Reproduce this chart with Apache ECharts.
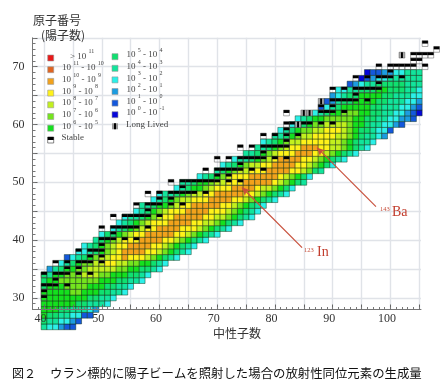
<!DOCTYPE html>
<html>
<head>
<meta charset="utf-8">
<title>chart</title>
<style>
html, body { margin: 0; padding: 0; background: #fff; }
#main { width: 444px; height: 386px; filter: blur(0.35px); }
</style>
<script src="https://cdn.jsdelivr.net/npm/echarts@6/dist/echarts.min.js"></script>
</head>
<body>
<div id="main"></div>
<script>
// 陽子数 Z ごとの先頭の中性子数と、セルごとの生成量クラス(1文字 = 1セル, a=10 b=11 c=12)
const protonNumbers = [25, 26, 27, 28, 29, 30, 31, 32, 33, 34, 35, 36, 37, 38, 39, 40, 41, 42, 43, 44, 45, 46, 47, 48, 49, 50, 51, 52, 53, 54, 55, 56, 57, 58, 59, 60, 61, 62, 63, 64, 65, 66, 67, 68, 69]
const firstNeutron = [40, 40, 40, 40, 40, 40, 40, 40, 40, 40, 41, 43, 44, 46, 47, 49, 50, 52, 53, 54, 56, 57, 59, 60, 63, 64, 67, 70, 71, 73, 75, 77, 78, 80, 81, 83, 84, 87, 88, 89, 90, 91, 93, 95, 96]
const levelRows = [
  '899abb',
  '78899ab',
  '677889 9bb',
  '6667788 89a',
  '666666778889',
  '6666666677889',
  '666665566677889',
  '7666555566677889',
  '766555555566677889',
  '7866555444556667789',
  'a8766554444455667789',
  '9876554433445566789',
  'b9876544332333456789',
  '99876543222233456789',
  '98765433222233456789',
  '87654333222233456789',
  '977654332222233456789',
  '987654332222333456789',
  '9876543332222334456789',
  '98876543322222334456789',
  '9876543332222333456789',
  '8876654332222233456789',
  '9876544333222233456789',
  '98876544332222233456789',
  '987665433322223445 679',
  '8876654433322222345678',
  '98765433322222345679',
  '8765443332222334578',
  '98765443322223345679',
  '98876543222233456789',
  '88765433322233456789',
  '88765433222334456789',
  '98765443333344567889',
  '8876544333344567 889a',
  '987655443334567789 9b',
  '98765544445667889 9ab',
  '987665555566778899aab',
  '9876655566778899abc',
  'b98766666778889 9ab',
  'ba877666677888 99a',
  'a98776666778889 9',
  '99887776677788 9',
  'ba988777778 88',
  'cba99888888',
  'cbbaa99888'
].map(s => s.replace(' ', ''))

// 安定核と長寿命核 (Z と N のリスト)
const stableZ = [30, 31, 32, 33, 34, 35, 36, 37, 38, 39, 40, 41, 42, 44, 45, 46, 47, 48, 49, 50, 51, 52, 53, 54, 55, 56, 57, 58, 59, 60, 62, 63, 64, 65, 66, 67, 68, 69, 70, 71, 72, 73, 74]
const stableN = [
  [40], [40], [40, 41, 42, 44], [42], [40, 42, 43, 44, 46, 48], [44, 46], [42, 44, 46, 47, 48, 50], [48, 50],
  [46, 48, 49, 50], [50], [50, 51, 52, 54, 56], [52], [50, 52, 53, 54, 55, 56, 58], [52, 54, 55, 56, 57, 58, 60], [58],
  [56, 58, 59, 60, 62, 64], [60, 62], [58, 60, 62, 63, 64, 65, 66, 68], [64], [62, 64, 65, 66, 67, 68, 69, 70, 72, 74], [70, 72],
  [68, 70, 71, 72, 73, 74, 76, 78], [74], [70, 72, 74, 75, 76, 77, 78, 80, 82], [78], [74, 76, 78, 79, 80, 81, 82], [82],
  [78, 80, 82, 84], [82], [82, 83, 85, 86, 88, 90], [82, 88, 89, 90, 92], [88, 90], [90, 91, 92, 93, 94, 96], [94],
  [90, 92, 94, 95, 96, 97, 98], [98], [94, 96, 98, 99, 100, 102], [100], [98, 100, 101, 102, 103, 104, 106], [104, 105],
  [104, 105, 106, 107], [108], [106]
]
const longLivedCells = [[84, 60], [85, 62], [86, 62], [88, 64], [102, 72]]

const levelColors = ['#e81818', '#e06420', '#f2a21c', '#fff21a', '#c2f01e', '#74e41e', '#14e01e', '#10e070', '#12e49c', '#2cf0e8', '#1c9ce0', '#1458dc', '#0606d8']
const levelLabelsLeft = [['>', '11'], ['11', '10'], ['10', '9'], ['9', '8'], ['8', '7'], ['7', '6'], ['6', '5']]
const levelLabelsRight = [['5', '4'], ['4', '3'], ['3', '2'], ['2', '1'], ['1', '0'], ['0', '-1']]

const xMajorTicks = [40, 45, 50, 55, 60, 65, 70, 75, 80, 85, 90, 95, 100, 105]
const xTickLabels = [40, 50, 60, 70, 80, 90, 100]
const yMajorTicks = [30, 35, 40, 45, 50, 55, 60, 65, 70, 75]
const yTickLabels = [30, 40, 50, 60, 70]
const xMinorTicks = []
for (let i = 39; i <= 105; i++) xMinorTicks.push(i)
const yMinorTicks = []
for (let i = 29; i <= 75; i++) yMinorTicks.push(i)

const arrowIn = [[84.7, 38.7], [74.3, 49.1]]
const arrowBa = [[97.5, 45.8], [87.3, 56.0]]

const serifFont = '"Liberation Serif", serif'
const cjkFont = '"Noto Sans CJK JP", sans-serif'

const cells = []
protonNumbers.forEach((z, r) => {
  levelRows[r].split('').forEach((c, i) => {
    cells.push([firstNeutron[r] + i, z, parseInt(c, 16)])
  })
})
const stableCells = []
stableZ.forEach((z, r) => {
  stableN[r].forEach(n => stableCells.push([n, z]))
})

function cellRect(api, n, z) {
  const p = api.coord([n - 0.5, z + 0.5])
  const s = api.size([1, 1])
  return { x: p[0], y: p[1], width: s[0], height: s[1] }
}

function legendText(lab) {
  if (lab[0] === '>') return '{b|> 10 }{s|' + lab[1] + '}'
  return '{b|10 }{s|' + lab[0] + '}{b| - 10 }{s|' + lab[1] + '}'
}

const legendRich = {
  b: { fontFamily: serifFont, fontSize: 9, fill: '#444', lineHeight: 12, verticalAlign: 'bottom' },
  s: { fontFamily: serifFont, fontSize: 6, fill: '#444', lineHeight: 12, verticalAlign: 'top' }
}

function swatch(x, y, color) {
  return { type: 'rect', shape: { x: x - 3, y: y - 3, width: 6, height: 6 }, style: { fill: color, stroke: '#999', lineWidth: 0.6 }, z: 10 }
}
function label(x, y, text, style) {
  return { type: 'text', x: x, y: y, style: Object.assign({ text: text, verticalAlign: 'middle', align: 'left' }, style), z: 10 }
}

const graphics = [
  label(33, 20, '原子番号', { fontFamily: cjkFont, fontSize: 12, fill: '#333' }),
  label(41, 35, '(陽子数)', { fontFamily: cjkFont, fontSize: 12, fill: '#333' }),
  label(213, 333, '中性子数', { fontFamily: cjkFont, fontSize: 12, fill: '#333' }),
  label(12, 373, '図２', { fontFamily: cjkFont, fontSize: 12, fill: '#111' }),
  label(50, 373, 'ウラン標的に陽子ビームを照射した場合の放射性同位元素の生成量', { fontFamily: cjkFont, fontSize: 12.4, fill: '#111' }),
  label(304, 250, '123', { fontFamily: serifFont, fontSize: 6.5, fill: '#c8503c' }),
  label(317, 252, 'In', { fontFamily: serifFont, fontSize: 14, fill: '#c23c2c' }),
  label(380, 209, '143', { fontFamily: serifFont, fontSize: 6.5, fill: '#c8503c' }),
  label(392, 212, 'Ba', { fontFamily: serifFont, fontSize: 14, fill: '#c23c2c' })
]

// 凡例
levelLabelsLeft.forEach((lab, i) => {
  const y = 58 + i * 11.7
  graphics.push(swatch(50.7, y, levelColors[i]))
  graphics.push(label(lab[0] === '>' ? 70 : 62, y - 3.2, legendText(lab), { rich: legendRich }))
})
levelLabelsRight.forEach((lab, i) => {
  const y = 56.7 + i * 11.6
  graphics.push(swatch(115, y, levelColors[i + 7]))
  graphics.push(label(126.5, y - 3.2, legendText(lab), { rich: legendRich }))
})
graphics.push({ type: 'rect', shape: { x: 47.7, y: 137, width: 6, height: 6 }, style: { fill: '#fff', stroke: '#333', lineWidth: 0.6 }, z: 10 })
graphics.push({ type: 'rect', shape: { x: 47.7, y: 137, width: 6, height: 3 }, style: { fill: '#000' }, z: 10 })
graphics.push(label(61.5, 138, 'Stable', { fontFamily: serifFont, fontSize: 9, fill: '#444' }))
graphics.push({ type: 'rect', shape: { x: 112, y: 123.3, width: 6, height: 6 }, style: { fill: '#999' }, z: 10 })
graphics.push({ type: 'rect', shape: { x: 114, y: 123.3, width: 2, height: 6 }, style: { fill: '#000' }, z: 10 })
graphics.push(label(126, 124.5, 'Long Lived', { fontFamily: serifFont, fontSize: 9, fill: '#444' }))

const gridLine = { show: true, lineStyle: { color: '#e0e3e8', width: 1.4 } }
const hidden = { show: false }

function xAxisBase() {
  return { type: 'value', position: 'bottom', offset: 0, min: 38, max: 105.3, axisLine: { onZero: false, show: false }, axisTick: hidden, axisLabel: hidden, splitLine: hidden }
}
function yAxisBase() {
  return { type: 'value', position: 'left', offset: 0, min: 28, max: 75, axisLine: { onZero: false, show: false }, axisTick: hidden, axisLabel: hidden, splitLine: hidden }
}

const chart = echarts.init(document.getElementById('main'), null, { renderer: 'canvas' })
const option = {
  animation: false,
  backgroundColor: '#fff',
  grid: { left: 32.5, top: 37.8, width: 388.5, height: 271.7, containLabel: false },
  xAxis: [
    Object.assign(xAxisBase(), { z: 0, axisTick: { show: false, customValues: xMajorTicks }, splitLine: gridLine }),
    Object.assign(xAxisBase(), {
      z: 5,
      axisLine: { show: true, onZero: false, lineStyle: { color: '#777', width: 1 } },
      axisTick: { show: true, inside: true, length: 5, customValues: xMajorTicks, lineStyle: { color: '#666' } },
      axisLabel: { show: true, customValues: xTickLabels, margin: 3, padding: [0, 7, 0, 0], fontFamily: serifFont, fontSize: 12, color: '#333' }
    }),
    Object.assign(xAxisBase(), {
      z: 5,
      axisTick: { show: true, inside: true, length: 2.5, customValues: xMinorTicks, lineStyle: { color: '#777' } }
    })
  ],
  yAxis: [
    Object.assign(yAxisBase(), { z: 0, axisTick: { show: false, customValues: yMajorTicks }, splitLine: gridLine }),
    Object.assign(yAxisBase(), {
      z: 5,
      axisLine: { show: true, onZero: false, lineStyle: { color: '#777', width: 1 } },
      axisTick: { show: true, inside: true, length: 5, customValues: yMajorTicks, lineStyle: { color: '#666' } },
      axisLabel: { show: true, customValues: yTickLabels, margin: 8, padding: [0, 0, 4, 0], fontFamily: serifFont, fontSize: 12, color: '#333' }
    }),
    Object.assign(yAxisBase(), {
      z: 5,
      axisTick: { show: true, inside: true, length: 3, customValues: yMinorTicks, lineStyle: { color: '#777' } }
    })
  ],
  graphic: graphics,
  series: [
    {
      type: 'custom',
      name: 'yield',
      z: 2,
      data: cells,
      encode: { x: 0, y: 1 },
      renderItem(params, api) {
        return {
          type: 'rect',
          shape: cellRect(api, api.value(0), api.value(1)),
          style: { fill: levelColors[api.value(2)], stroke: 'rgba(10,40,10,0.75)', lineWidth: 0.6 }
        }
      }
    },
    {
      type: 'custom',
      name: 'stable',
      z: 3,
      data: stableCells,
      encode: { x: 0, y: 1 },
      renderItem(params, api) {
        const r = cellRect(api, api.value(0), api.value(1))
        return {
          type: 'group',
          children: [
            { type: 'rect', shape: r, style: { fill: 'none', stroke: '#555', lineWidth: 0.5 } },
            { type: 'rect', shape: { x: r.x, y: r.y, width: r.width, height: r.height / 2 }, style: { fill: '#000' } }
          ]
        }
      }
    },
    {
      type: 'custom',
      name: 'long lived',
      z: 3,
      data: longLivedCells,
      encode: { x: 0, y: 1 },
      renderItem(params, api) {
        const r = cellRect(api, api.value(0), api.value(1))
        return {
          type: 'group',
          children: [
            { type: 'rect', shape: r, style: { fill: '#aaa', stroke: '#555', lineWidth: 0.5 } },
            { type: 'rect', shape: { x: r.x + r.width / 3, y: r.y, width: r.width / 3, height: r.height }, style: { fill: '#000' } }
          ]
        }
      }
    },
    {
      type: 'line',
      name: 'arrows',
      z: 4,
      data: [],
      markLine: {
        silent: true,
        symbol: ['none', 'arrow'],
        symbolSize: [6, 8],
        animation: false,
        label: { show: false },
        lineStyle: { color: '#c8503c', width: 1.2, type: 'solid' },
        data: [
          [{ coord: arrowIn[0] }, { coord: arrowIn[1] }],
          [{ coord: arrowBa[0] }, { coord: arrowBa[1] }]
        ]
      }
    }
  ]
}
chart.setOption(option)
</script>
</body>
</html>
